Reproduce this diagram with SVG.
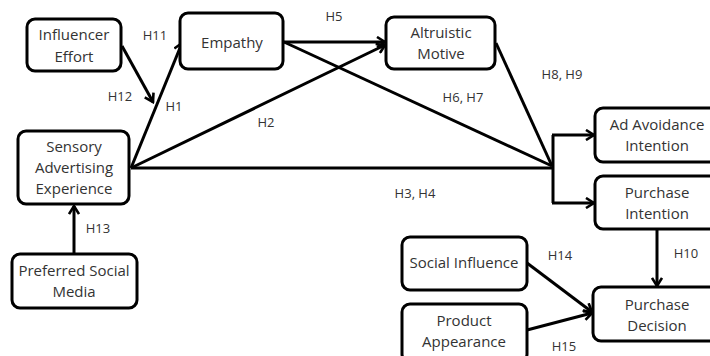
<svg xmlns="http://www.w3.org/2000/svg" width="710" height="356" viewBox="0 0 710 356">
<defs>
<marker id="arr" viewBox="0 0 12 12" refX="10" refY="6" markerWidth="12" markerHeight="12" markerUnits="userSpaceOnUse" orient="auto">
<path d="M2,1 L10,6 L2,11" fill="none" stroke="#000" stroke-width="2.6"/>
</marker>
<style>
.box{fill:#fff;stroke:#000;stroke-width:3}
.t{font-family:"Open Sans","Liberation Sans",sans-serif;font-size:15px;fill:#333;text-anchor:middle}
.l{font-family:"Open Sans","Liberation Sans",sans-serif;font-size:13px;fill:#333;text-anchor:middle}
.c{fill:none;stroke:#000;stroke-width:3}
</style>
</defs>
<rect width="710" height="356" fill="#fff"/>
<g id="connectors">
<line class="c" x1="122" y1="46" x2="153" y2="102" marker-end="url(#arr)"/>
<line class="c" x1="131" y1="168" x2="182" y2="43" marker-end="url(#arr)"/>
<line class="c" x1="131" y1="168" x2="385" y2="45" marker-end="url(#arr)"/>
<line class="c" x1="284" y1="42" x2="385" y2="42" marker-end="url(#arr)"/>
<line class="c" x1="284" y1="42" x2="552" y2="166"/>
<line class="c" x1="496" y1="43" x2="552" y2="166"/>
<line class="c" x1="131" y1="168" x2="552" y2="168"/>
<polyline class="c" points="553,135 553,203"/>
<line class="c" x1="552" y1="135" x2="594" y2="135" marker-end="url(#arr)"/>
<line class="c" x1="552" y1="203" x2="594" y2="203" marker-end="url(#arr)"/>
<line class="c" x1="657" y1="230" x2="657" y2="286" marker-end="url(#arr)"/>
<line class="c" x1="527" y1="263" x2="592" y2="312" marker-end="url(#arr)"/>
<line class="c" x1="527" y1="330" x2="592" y2="313" marker-end="url(#arr)"/>
<line class="c" x1="74" y1="254" x2="74" y2="206" marker-end="url(#arr)"/>
</g>
<g id="labels">
<text class="l" x="155" y="40">H11</text>
<text class="l" x="120" y="101">H12</text>
<text class="l" x="174" y="111">H1</text>
<text class="l" x="266" y="127">H2</text>
<text class="l" x="334" y="21">H5</text>
<text class="l" x="463" y="102">H6, H7</text>
<text class="l" x="562" y="79">H8, H9</text>
<text class="l" x="415" y="198">H3, H4</text>
<text class="l" x="98" y="233">H13</text>
<text class="l" x="560" y="260">H14</text>
<text class="l" x="686" y="258">H10</text>
<text class="l" x="564" y="351">H15</text>
</g>
<g id="influencer">
<rect class="box" x="27" y="19" width="94" height="52" rx="8"/>
<text class="t" x="74" y="40">Influencer</text>
<text class="t" x="74" y="62">Effort</text>
</g>
<g id="empathy">
<rect class="box" x="180" y="13" width="103" height="56" rx="8"/>
<text class="t" x="232" y="48">Empathy</text>
</g>
<g id="altruistic">
<rect class="box" x="386" y="17" width="109" height="52" rx="8"/>
<text class="t" x="441" y="38">Altruistic</text>
<text class="t" x="441" y="59">Motive</text>
</g>
<g id="sensory">
<rect class="box" x="18" y="131" width="111" height="73" rx="8"/>
<text class="t" x="74" y="152">Sensory</text>
<text class="t" x="74" y="173">Advertising</text>
<text class="t" x="74" y="194">Experience</text>
</g>
<g id="preferred">
<rect class="box" x="12" y="254" width="125" height="54" rx="8"/>
<text class="t" x="74" y="276">Preferred Social</text>
<text class="t" x="74" y="297">Media</text>
</g>
<g id="adavoid">
<rect class="box" x="595" y="108" width="124" height="54" rx="8"/>
<text class="t" x="657" y="130">Ad Avoidance</text>
<text class="t" x="657" y="151">Intention</text>
</g>
<g id="purchaseint">
<rect class="box" x="595" y="176" width="124" height="53" rx="8"/>
<text class="t" x="657" y="198">Purchase</text>
<text class="t" x="657" y="219">Intention</text>
</g>
<g id="purchasedec">
<rect class="box" x="593" y="287" width="126" height="54" rx="8"/>
<text class="t" x="657" y="310">Purchase</text>
<text class="t" x="657" y="331">Decision</text>
</g>
<g id="social">
<rect class="box" x="402" y="237" width="125" height="53" rx="8"/>
<text class="t" x="464" y="268">Social Influence</text>
</g>
<g id="product">
<rect class="box" x="402" y="304" width="125" height="58" rx="8"/>
<text class="t" x="464" y="326">Product</text>
<text class="t" x="464" y="347">Appearance</text>
</g>
</svg>
